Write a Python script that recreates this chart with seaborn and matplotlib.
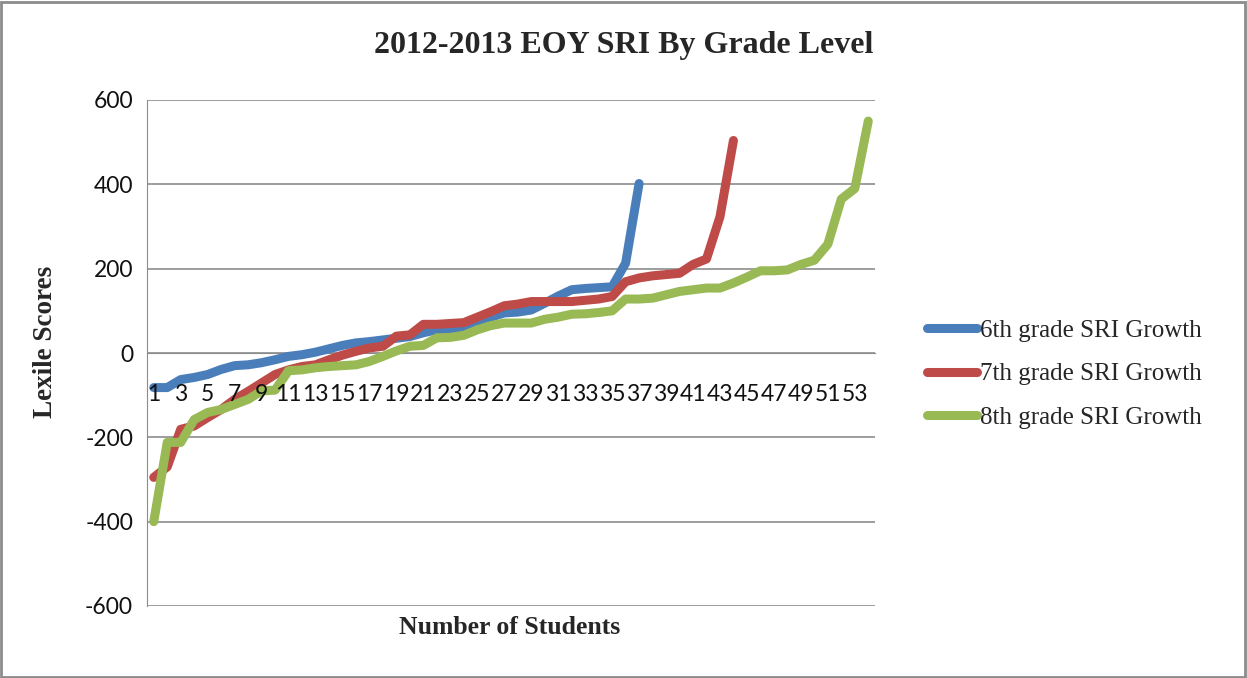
import numpy as np
import pandas as pd
import matplotlib
matplotlib.use("Agg")
import matplotlib.pyplot as plt
import seaborn as sns
from matplotlib.patches import Rectangle

# Values (sorted growth per student)
grade6 = [-82, -82, -63, -58, -51, -39, -30, -28, -23, -16, -8, -4, 2, 10, 18,
          24, 27, 31, 35, 39, 48, 55, 57, 60, 72, 85, 95, 97, 102, 118, 135,
          150, 153, 155, 157, 213, 402]
grade7 = [-295, -270, -181, -173, -153, -134, -110, -91, -71, -51, -40, -32,
          -28, -16, -5, 4, 12, 16, 40, 43, 68, 68, 70, 72, 85, 98, 112, 116,
          122, 122, 122, 122, 125, 128, 134, 169, 178, 183, 186, 189, 210, 223,
          323, 504]
grade8 = [-400, -212, -212, -158, -141, -134, -122, -110, -90, -88, -42, -40,
          -35, -32, -30, -28, -20, -8, 5, 16, 18, 36, 37, 42, 55, 65, 71, 71,
          71, 80, 85, 92, 93, 96, 100, 128, 128, 130, 138, 146, 150, 154, 154,
          166, 180, 195, 195, 197, 210, 220, 258, 365, 390, 550]
series_names = ["6th grade SRI Growth", "7th grade SRI Growth", "8th grade SRI Growth"]
colors = ["#4A7EBB", "#BE4B48", "#98B954"]
y_ticks = [-600, -400, -200, 0, 200, 400, 600]

frames = []
for name, vals in zip(series_names, [grade6, grade7, grade8]):
    frames.append(pd.DataFrame({"student": np.arange(1, len(vals) + 1),
                                "score": vals, "grade": name}))
df = pd.concat(frames, ignore_index=True)
n_students = len(grade8)

sns.set_style("white")
plt.rcParams["font.family"] = ["Lato", "DejaVu Sans"]

fig = plt.figure(figsize=(12.47, 6.78), dpi=100)
ax = fig.add_axes([147 / 1247, 1 - 606 / 678, (875 - 147) / 1247, (606 - 100) / 678])

sns.lineplot(data=df, x="student", y="score", hue="grade", palette=colors,
             linewidth=6.5, solid_capstyle="round", solid_joinstyle="round",
             ax=ax, legend=True, zorder=3)

# x axis sits on the zero line, like the original
ax.spines["bottom"].set_position(("data", 0))
ax.spines["bottom"].set_color("#8c8c8c")
ax.spines["left"].set_color("#8c8c8c")
ax.spines["top"].set_visible(False)
ax.spines["right"].set_visible(False)

ax.set_xlim(0.5, n_students + 0.5)
ax.set_ylim(-600, 600)
ax.set_yticks(y_ticks)
ax.set_yticklabels([str(v) for v in y_ticks])
ax.set_xticks(np.arange(1, n_students + 1, 2))
ax.set_xticklabels([str(v) for v in np.arange(1, n_students + 1, 2)])
ax.tick_params(axis="both", length=0, labelsize=16.5, labelcolor="#111111")
ax.tick_params(axis="y", pad=10)
ax.tick_params(axis="x", pad=22)
# category labels are printed over the lines in the original
ax.xaxis.set_zorder(5)

ax.yaxis.grid(True, color="#8c8c8c", linewidth=1.2)
ax.xaxis.grid(False)

ax.set_xlabel("")
ax.set_ylabel("")
fig.text(510 / 1247, 1 - 628 / 678, "Number of Students", ha="center", va="center",
         fontsize=18.5, fontweight="bold", family="Liberation Serif")
fig.text(46 / 1247, 1 - 342 / 678, "Lexile Scores", ha="center", va="center",
         rotation=90, fontsize=19.5, fontweight="bold", family="Liberation Serif")
fig.text(624 / 1247, 1 - 46 / 678, "2012-2013 EOY SRI By Grade Level", ha="center",
         va="center", fontsize=23, fontweight="bold", family="Liberation Serif")

handles, labels = ax.get_legend_handles_labels()
ax.get_legend().remove()
leg = fig.legend(handles, labels, loc="center left",
                 bbox_to_anchor=(914 / 1247, 1 - 374 / 678), frameon=False,
                 prop={"family": "Liberation Serif", "size": 18},
                 handlelength=2.0, handletextpad=0.15, labelspacing=0.85, borderpad=0)
for h in leg.get_lines():
    h.set_linewidth(6.5)
    h.set_solid_capstyle("round")

# outer chart border
fig.patches.append(Rectangle((0.001, 0.002), 0.997, 0.995, transform=fig.transFigure,
                             fill=False, edgecolor="#8c8c8c", linewidth=2))

fig.savefig("out.png", dpi=100)
